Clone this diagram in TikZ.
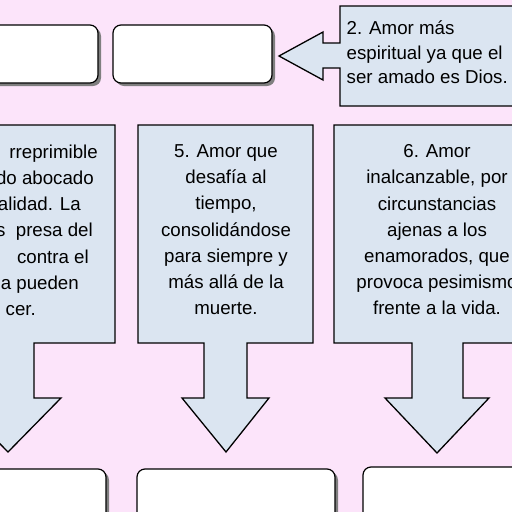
\documentclass[tikz,border=0pt]{standalone}
\usepackage{fontspec}
\setmainfont{Liberation Sans}
\usepackage{xcolor}
\usepackage{tikz}
\usetikzlibrary{
  positioning,
  shadows
}

\definecolor{pinkbg}{HTML}{FCE4FA}
\definecolor{callfill}{HTML}{DBE5F1}
\definecolor{shadowgray}{HTML}{7F7F7F}

\begin{document}
\begin{tikzpicture}[
  x=1pt, y=-1pt,
  whitebox/.style={
    rectangle,
    rounded corners=8pt,
    draw=black,
    fill=white,
    line width=1.2pt,
    drop shadow={shadow xshift=3pt, shadow yshift=-3pt, fill=shadowgray, opacity=1}
  },
  calloutbox/.style={
    draw=black,
    fill=callfill,
    line width=1.3pt,
    line join=miter
  },
  calltext/.style={
    inner sep=0pt,
    align=center,
    font=\fontsize{18.7}{26.2}\selectfont
  }
]

% Page background
\useasboundingbox (0,0) rectangle (512,512);
\clip (0,0) rectangle (512,512);
\fill[pinkbg] (0,0) rectangle (512,512);

% Top row: empty boxes
\node[whitebox, minimum width=159pt, minimum height=58pt] (box1) at (18.5,54) {};
\node[whitebox, minimum width=159pt, minimum height=58pt] (box2) at (192.5,54) {};

% Callout 2 (pointing left)
\draw[calloutbox] (340,6) -- (530,6) -- (530,106) -- (340,106) -- (340,68) -- (323,68)
  -- (323,80) -- (279,56) -- (323,32) -- (323,43) -- (340,43) -- cycle;
\node[calltext, align=left, anchor=north west, font=\fontsize{18.7}{24.5}\selectfont] (txt2) at (346.5,21)
  {2. Amor más\\espiritual ya que el\\ser amado es Dios.};

% Callouts 4, 5, 6 (pointing down)
\draw[calloutbox] (-100,125) -- (115,125) -- (115,343) -- (34,343) -- (34,398) -- (61,398)
  -- (8,452) -- (-45,398) -- (-18,398) -- (-18,343) -- (-100,343) -- cycle;
\draw[calloutbox] (138,125) -- (313,125) -- (313,343) -- (247,343) -- (247,398) -- (269,398)
  -- (226,452) -- (182,398) -- (204,398) -- (204,343) -- (138,343) -- cycle;
\draw[calloutbox] (334,125) -- (540,125) -- (540,343) -- (463,343) -- (463,398) -- (489,398)
  -- (437,453) -- (385,398) -- (412,398) -- (412,343) -- (334,343) -- cycle;

\node[calltext, align=right, anchor=north east] (txt4) at (98,144.5)
  {rreprimible\\do abocado\hspace*{4pt}\mbox{}\\alidad. La\hspace*{17pt}\mbox{}\\%
   s\ \ presa del\hspace*{5pt}\mbox{}\\contra el\hspace*{9pt}\mbox{}\\%
   la pueden\hspace*{19pt}\mbox{}\\cer.\hspace*{62pt}\mbox{}};
\node[calltext, anchor=north] (txt5) at (226,144.5)
  {5. Amor que\\desafía al\\tiempo,\\consolidándose\\para siempre y\\más allá de la\\muerte.};
\node[calltext, anchor=north] (txt6) at (437,144.5)
  {6. Amor\\inalcanzable, por\\circunstancias\\ajenas a los\\enamorados, que\\provoca pesimismo\\frente a la vida.};

% Bottom row: empty boxes
\node[whitebox, minimum width=198pt, minimum height=58pt] (box4) at (7,498) {};
\node[whitebox, minimum width=198pt, minimum height=58pt] (box5) at (236,498) {};
\node[whitebox, minimum width=198pt, minimum height=58pt] (box6) at (462,496) {};

\end{tikzpicture}
\end{document}
